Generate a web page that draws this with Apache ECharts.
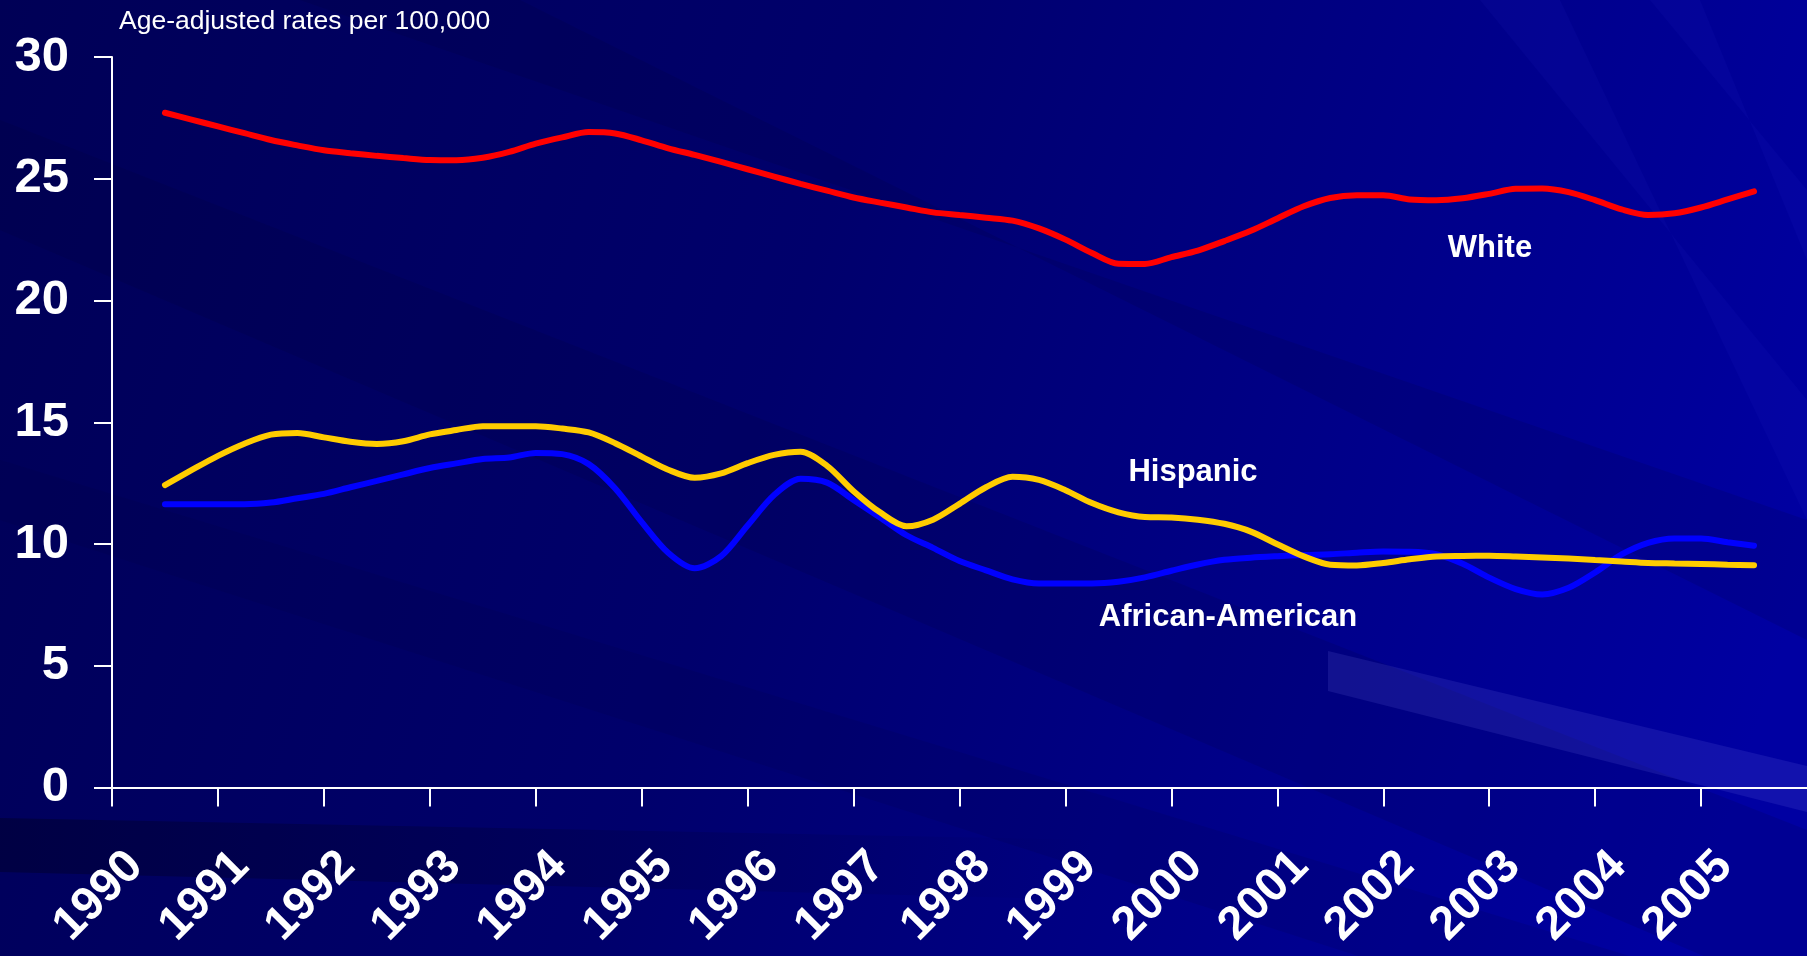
<!DOCTYPE html>
<html>
<head>
<meta charset="utf-8">
<title>Age-adjusted rates per 100,000</title>
<script src="https://cdn.jsdelivr.net/npm/echarts@6/dist/echarts.min.js"></script>
<style>
  html, body { margin: 0; padding: 0; background: #000070; }
  #main { width: 1807px; height: 956px; }
</style>
</head>
<body>
<div id="main"></div>
<script>
// year tick labels
var years = ['1990', '1991', '1992', '1993', '1994', '1995', '1996', '1997',
             '1998', '1999', '2000', '2001', '2002', '2003', '2004', '2005'];

// rates read quarterly from mid-1990 to mid-2005
var white = [27.71, 27.43, 27.15, 26.87, 26.59, 26.37, 26.17, 26.05, 25.94, 25.85,
             25.77, 25.76, 25.86, 26.10, 26.44, 26.70, 26.92, 26.86, 26.58, 26.25,
             25.98, 25.69, 25.39, 25.09, 24.79, 24.51, 24.23, 24.02, 23.82, 23.62,
             23.51, 23.40, 23.28, 22.96, 22.50, 21.95, 21.51, 21.50, 21.78, 22.05,
             22.44, 22.86, 23.37, 23.87, 24.21, 24.32, 24.32, 24.15, 24.12, 24.20,
             24.38, 24.59, 24.60, 24.45, 24.12, 23.74, 23.51, 23.58, 23.82, 24.15,
             24.48];
var african = [11.63, 11.63, 11.63, 11.63, 11.70, 11.88, 12.06, 12.33, 12.59, 12.86,
               13.12, 13.31, 13.49, 13.55, 13.74, 13.69, 13.28, 12.28, 10.90, 9.64,
               9.00, 9.50, 10.76, 12.01, 12.68, 12.52, 11.81, 11.09, 10.36, 9.84,
               9.30, 8.92, 8.55, 8.38, 8.38, 8.38, 8.45, 8.63, 8.90, 9.16,
               9.35, 9.44, 9.50, 9.55, 9.58, 9.64, 9.69, 9.68, 9.58, 9.19,
               8.62, 8.15, 7.93, 8.20, 8.83, 9.57, 10.05, 10.23, 10.23, 10.07,
               9.93];
var hispanic = [12.42, 13.03, 13.62, 14.12, 14.49, 14.56, 14.38, 14.20, 14.11, 14.22,
                14.50, 14.68, 14.84, 14.84, 14.84, 14.74, 14.58, 14.14, 13.59, 13.05,
                12.72, 12.90, 13.32, 13.66, 13.79, 13.21, 12.17, 11.30, 10.73, 11.00,
                11.65, 12.33, 12.76, 12.63, 12.21, 11.68, 11.30, 11.11, 11.09, 11.00,
                10.83, 10.51, 9.99, 9.49, 9.15, 9.12, 9.22, 9.37, 9.49, 9.51,
                9.52, 9.49, 9.45, 9.40, 9.34, 9.28, 9.22, 9.20, 9.18, 9.15,
                9.13];

// quarter positions on the time axis
var quarters = [];
for (var i = 0; i < white.length; i++) quarters.push(1990.5 + i * 0.25);

function pairs(vals) {
  return vals.map(function (v, i) { return [quarters[i], v]; });
}

var font = '"Liberation Sans", Arial, sans-serif';

var myChart = echarts.init(document.getElementById('main'));

var option = {
  animation: false,
  graphic: [
    // background
    { type: 'rect', z: -100, silent: true, shape: { x: 0, y: 0, width: 1807, height: 956 },
      style: { fill: new echarts.graphic.LinearGradient(0, 0, 1, 0.6, [
        { offset: 0, color: '#000056' },
        { offset: 0.45, color: '#00006c' },
        { offset: 1, color: '#0000a2' }
      ]) } },
    { type: 'polygon', z: -99, silent: true,
      shape: { points: [[0, 120], [0, 230], [1807, 1000], [1807, 830]] },
      style: { fill: 'rgba(0,0,40,0.12)' } },
    { type: 'polygon', z: -99, silent: true,
      shape: { points: [[300, 0], [520, 0], [1807, 640], [1807, 520]] },
      style: { fill: 'rgba(0,0,40,0.12)' } },
    { type: 'polygon', z: -99, silent: true,
      shape: { points: [[0, 460], [0, 520], [1807, 1100], [1807, 1010]] },
      style: { fill: 'rgba(0,0,60,0.12)' } },
    { type: 'polygon', z: -99, silent: true,
      shape: { points: [[0, 818], [0, 872], [1100, 900], [1100, 840]] },
      style: { fill: new echarts.graphic.LinearGradient(0, 0, 1, 0, [
        { offset: 0, color: 'rgba(0,0,30,0.4)' },
        { offset: 1, color: 'rgba(0,0,30,0)' }
      ]) } },
    { type: 'polygon', z: -99, silent: true,
      shape: { points: [[1328, 651], [1807, 766], [1807, 812], [1328, 691]] },
      style: { fill: 'rgba(110,110,230,0.16)' } },
    { type: 'polygon', z: -99, silent: true,
      shape: { points: [[1480, 0], [1560, 0], [1807, 520], [1807, 400]] },
      style: { fill: 'rgba(60,60,230,0.07)' } },
    { type: 'polygon', z: -99, silent: true,
      shape: { points: [[1650, 0], [1700, 0], [1807, 260], [1807, 190]] },
      style: { fill: 'rgba(60,60,230,0.07)' } },
    // titles and series names
    { type: 'text', left: 119, top: 8, z: 10,
      style: { text: 'Age-adjusted rates per 100,000', fill: '#ffffff',
               font: '26.5px ' + font } },
    { type: 'text', x: 1490, y: 248, z: 10,
      style: { text: 'White', fill: '#ffffff', align: 'center', verticalAlign: 'middle',
               font: 'bold 31px ' + font } },
    { type: 'text', x: 1193, y: 472, z: 10,
      style: { text: 'Hispanic', fill: '#ffffff', align: 'center', verticalAlign: 'middle',
               font: 'bold 31px ' + font } },
    { type: 'text', x: 1228, y: 617, z: 10,
      style: { text: 'African-American', fill: '#ffffff', align: 'center', verticalAlign: 'middle',
               font: 'bold 31px ' + font } }
  ],
  grid: { left: 112, right: -2, top: 57, bottom: 168.5, containLabel: false },
  xAxis: {
    type: 'value',
    min: 1990,
    max: 2006,
    interval: 1,
    splitLine: { show: false },
    axisLine: { onZero: false, lineStyle: { color: '#ffffff', width: 2 } },
    axisTick: { show: true, length: 19, lineStyle: { color: '#ffffff', width: 2 } },
    axisLabel: {
      show: true,
      rotate: 45,
      margin: 62,
      align: 'right',
      verticalAlign: 'top',
      padding: [0, -10, 0, 0],
      showMaxLabel: false,
      color: '#ffffff',
      fontFamily: font,
      fontWeight: 'bold',
      fontSize: 47,
      formatter: function (v) {
        var idx = Math.round(v - 1990);
        return years[idx] !== undefined ? years[idx] : '';
      }
    }
  },
  yAxis: {
    type: 'value',
    min: 0,
    max: 30,
    interval: 5,
    splitLine: { show: false },
    axisLine: { show: true, lineStyle: { color: '#ffffff', width: 2 } },
    axisTick: { show: true, length: 18, lineStyle: { color: '#ffffff', width: 2 } },
    axisLabel: {
      margin: 43,
      color: '#ffffff',
      fontFamily: font,
      fontWeight: 'bold',
      fontSize: 49
    }
  },
  series: [
    {
      name: 'White', type: 'line', data: pairs(white),
      showSymbol: false, smooth: 0.3,
      lineStyle: { color: '#ff0000', width: 6, cap: 'round' }
    },
    {
      name: 'African-American', type: 'line', data: pairs(african),
      showSymbol: false, smooth: 0.3,
      lineStyle: { color: '#0000ff', width: 6, cap: 'round' }
    },
    {
      name: 'Hispanic', type: 'line', data: pairs(hispanic),
      showSymbol: false, smooth: 0.3,
      lineStyle: { color: '#ffcc00', width: 6, cap: 'round' }
    }
  ]
};

myChart.setOption(option);
</script>
</body>
</html>
